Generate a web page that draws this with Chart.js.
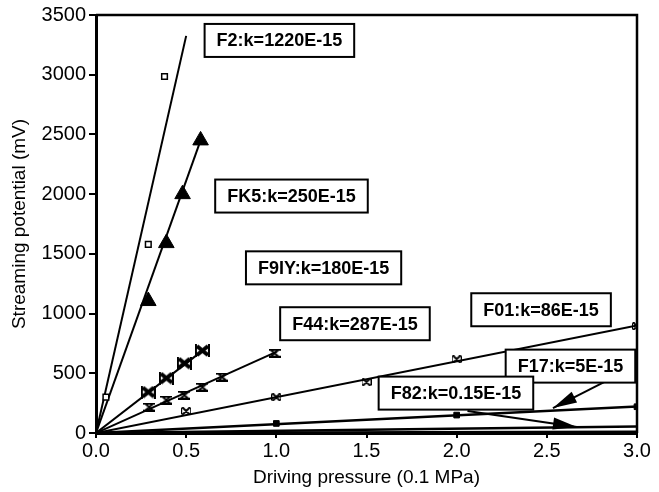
<!DOCTYPE html>
<html>
<head>
<meta charset="utf-8">
<script src="https://cdn.jsdelivr.net/npm/chart.js@4/dist/chart.umd.min.js"></script>
<style>
  html, body { margin: 0; padding: 0; background: #fff; }
  canvas { display: block; }
</style>
</head>
<body>
<canvas id="chart" width="659" height="492"></canvas>
<script>
// axis ticks
const xTicks = [0, 0.5, 1.0, 1.5, 2.0, 2.5, 3.0];
const yTicks = [0, 500, 1000, 1500, 2000, 2500, 3000, 3500];

// measured points (driving pressure, streaming potential)
const f2X = [0.055, 0.29, 0.38];
const f2Y = [300, 1580, 2985];
const fk5X = [0.29, 0.39, 0.48, 0.58];
const fk5Y = [1105, 1590, 2000, 2450];
const f9iyX = [0.29, 0.39, 0.49, 0.59];
const f9iyY = [343, 460, 585, 690];
const f44X = [0.295, 0.39, 0.49, 0.59, 0.70, 0.99];
const f44Y = [217, 276, 317, 384, 468, 668];
const f01X = [0.5, 1.0, 1.5, 2.0, 3.0];
const f01Y = [184, 300, 426, 618, 894];
const f17X = [1.0, 2.0, 3.0];
const f17Y = [80, 150, 220];

// fitted lines through the origin: end x, end y
const fitEndX = [0.5, 0.58, 0.6, 1.0, 3.0, 3.0, 3.0, 3.0];
const fitEndY = [3325, 2450, 700, 680, 900, 222, 55, 10];

// label boxes: text, centre in data units
const labelText = ['F2:k=1220E-15', 'FK5:k=250E-15', 'F9IY:k=180E-15', 'F44:k=287E-15',
                   'F01:k=86E-15', 'F17:k=5E-15', 'F82:k=0.15E-15'];
const labelX = [1.017, 1.084, 1.262, 1.436, 2.468, 2.631, 1.996];
const labelY = [3287, 1984, 1383, 915, 1032, 560, 334];

// arrows: from (x1,y1) to (x2,y2) in data units
const arrowFrom = [[2.85, 451], [2.06, 184]];
const arrowTo = [[2.534, 209], [2.667, 50]];

function pts(xs, ys) {
  return xs.map((x, i) => ({ x, y: ys[i] }));
}

function makeMarker(w, h, draw) {
  const c = document.createElement('canvas');
  c.width = w;
  c.height = h;
  const g = c.getContext('2d');
  g.fillStyle = '#000';
  g.strokeStyle = '#000';
  draw(g, w, h);
  return c;
}

// filled "x" with side caps (F9IY)
const bowtie = makeMarker(15, 13, (g, w, h) => {
  g.lineWidth = 4;
  g.beginPath();
  g.moveTo(2, 2); g.lineTo(w - 2, h - 2);
  g.moveTo(w - 2, 2); g.lineTo(2, h - 2);
  g.stroke();
  g.lineWidth = 2;
  g.beginPath();
  g.moveTo(1, 0); g.lineTo(1, h);
  g.moveTo(w - 1, 0); g.lineTo(w - 1, h);
  g.stroke();
});

// hourglass (F44)
const hourglass = makeMarker(12, 9, (g, w, h) => {
  g.lineWidth = 2;
  g.beginPath();
  g.moveTo(0, 1); g.lineTo(w, 1);
  g.moveTo(0, h - 1); g.lineTo(w, h - 1);
  g.moveTo(2, 1); g.lineTo(w - 2, h - 1);
  g.moveTo(w - 2, 1); g.lineTo(2, h - 1);
  g.stroke();
});

// small x (F01)
const smallX = makeMarker(10, 8, (g, w, h) => {
  g.lineWidth = 2;
  g.beginPath();
  g.moveTo(1, 0); g.lineTo(w - 1, h);
  g.moveTo(w - 1, 0); g.lineTo(1, h);
  g.moveTo(0, 1); g.lineTo(0, h - 1);
  g.moveTo(w, 1); g.lineTo(w, h - 1);
  g.stroke();
});

const fitSets = fitEndX.map((x, i) => ({
  data: [{ x: 0, y: 0 }, { x, y: fitEndY[i] }],
  showLine: true,
  borderColor: '#000',
  borderWidth: i >= 5 ? 2.5 : 2,
  pointRadius: 0,
  order: 2
}));

const pointSets = [
  { data: pts(f2X, f2Y), pointStyle: 'rect', pointRadius: 4, backgroundColor: '#fff', borderColor: '#000', borderWidth: 1.5 },
  { data: pts(fk5X, fk5Y), pointStyle: 'triangle', pointRadius: 9, backgroundColor: '#000', borderColor: '#000', borderWidth: 1 },
  { data: pts(f9iyX, f9iyY), pointStyle: bowtie },
  { data: pts(f44X, f44Y), pointStyle: hourglass },
  { data: pts(f01X, f01Y), pointStyle: smallX },
  { data: pts(f17X, f17Y), pointStyle: 'rect', pointRadius: 4, backgroundColor: '#000', borderColor: '#000', borderWidth: 1 }
].map(d => Object.assign({ showLine: false, order: 1 }, d));

const frameAndLabels = {
  id: 'frameAndLabels',
  beforeDraw(chart) {
    const { ctx, width, height } = chart;
    ctx.save();
    ctx.fillStyle = '#fff';
    ctx.fillRect(0, 0, width, height);
    ctx.restore();
  },
  afterDatasetsDraw(chart) {
    const { ctx, chartArea: a, scales } = chart;
    const sx = scales.x, sy = scales.y;
    ctx.save();
    // top and right frame
    ctx.strokeStyle = '#000';
    ctx.lineWidth = 2.5;
    ctx.beginPath();
    ctx.moveTo(a.left, a.top);
    ctx.lineTo(a.right, a.top);
    ctx.lineTo(a.right, a.bottom);
    ctx.stroke();

    // arrows
    ctx.fillStyle = '#000';
    arrowFrom.forEach((f, i) => {
      const x1 = sx.getPixelForValue(f[0]), y1 = sy.getPixelForValue(f[1]);
      const x2 = sx.getPixelForValue(arrowTo[i][0]), y2 = sy.getPixelForValue(arrowTo[i][1]);
      const ang = Math.atan2(y2 - y1, x2 - x1);
      const len = 24, half = 6;
      ctx.lineWidth = 2;
      ctx.beginPath();
      ctx.moveTo(x1, y1);
      ctx.lineTo(x2, y2);
      ctx.stroke();
      ctx.beginPath();
      ctx.moveTo(x2, y2);
      ctx.lineTo(x2 - len * Math.cos(ang) + half * Math.sin(ang), y2 - len * Math.sin(ang) - half * Math.cos(ang));
      ctx.lineTo(x2 - len * Math.cos(ang) - half * Math.sin(ang), y2 - len * Math.sin(ang) + half * Math.cos(ang));
      ctx.closePath();
      ctx.fill();
    });

    // label boxes
    ctx.font = 'bold 18px "Liberation Sans", Arial, sans-serif';
    ctx.textAlign = 'center';
    ctx.textBaseline = 'middle';
    labelText.forEach((t, i) => {
      const cx = sx.getPixelForValue(labelX[i]);
      const cy = sy.getPixelForValue(labelY[i]);
      const w = ctx.measureText(t).width + 24;
      const h = 33;
      ctx.fillStyle = '#fff';
      ctx.fillRect(cx - w / 2, cy - h / 2, w, h);
      ctx.lineWidth = 2;
      ctx.strokeRect(cx - w / 2, cy - h / 2, w, h);
      ctx.fillStyle = '#000';
      ctx.fillText(t, cx, cy + 1);
    });
    ctx.restore();
  }
};

const tickFont = { family: '"Liberation Sans", Arial, sans-serif', size: 20 };
const titleFont = { family: '"Liberation Sans", Arial, sans-serif', size: 19 };

new Chart(document.getElementById('chart'), {
  type: 'scatter',
  data: { datasets: [...fitSets, ...pointSets] },
  options: {
    responsive: false,
    animation: false,
    layout: { padding: { top: 14, right: 22, left: 0, bottom: 0 } },
    plugins: { legend: { display: false }, tooltip: { enabled: false } },
    scales: {
      x: {
        type: 'linear',
        min: 0,
        max: 3,
        afterBuildTicks(scale) { scale.ticks = xTicks.map(v => ({ value: v })); },
        afterFit(scale) { scale.height = 59; },
        border: { display: true, color: '#000', width: 3 },
        grid: { drawOnChartArea: false, drawTicks: true, tickLength: 5, color: '#000', lineWidth: 2 },
        ticks: { color: '#000', font: tickFont, padding: 1, maxRotation: 0, callback: v => v.toFixed(1) },
        title: { display: true, text: 'Driving pressure (0.1 MPa)', color: '#000', font: titleFont, padding: { top: 0, bottom: 3 } }
      },
      y: {
        type: 'linear',
        min: 0,
        max: 3500,
        afterBuildTicks(scale) { scale.ticks = yTicks.map(v => ({ value: v })); },
        afterFit(scale) { scale.width = 96; },
        border: { display: true, color: '#000', width: 3 },
        grid: { drawOnChartArea: false, drawTicks: true, tickLength: 7, color: '#000', lineWidth: 2 },
        ticks: { color: '#000', font: tickFont, padding: 3, callback: v => String(v) },
        title: { display: true, text: 'Streaming potential (mV)', color: '#000', font: titleFont, padding: { top: 8, bottom: 0 } }
      }
    }
  },
  plugins: [frameAndLabels]
});
</script>
</body>
</html>
